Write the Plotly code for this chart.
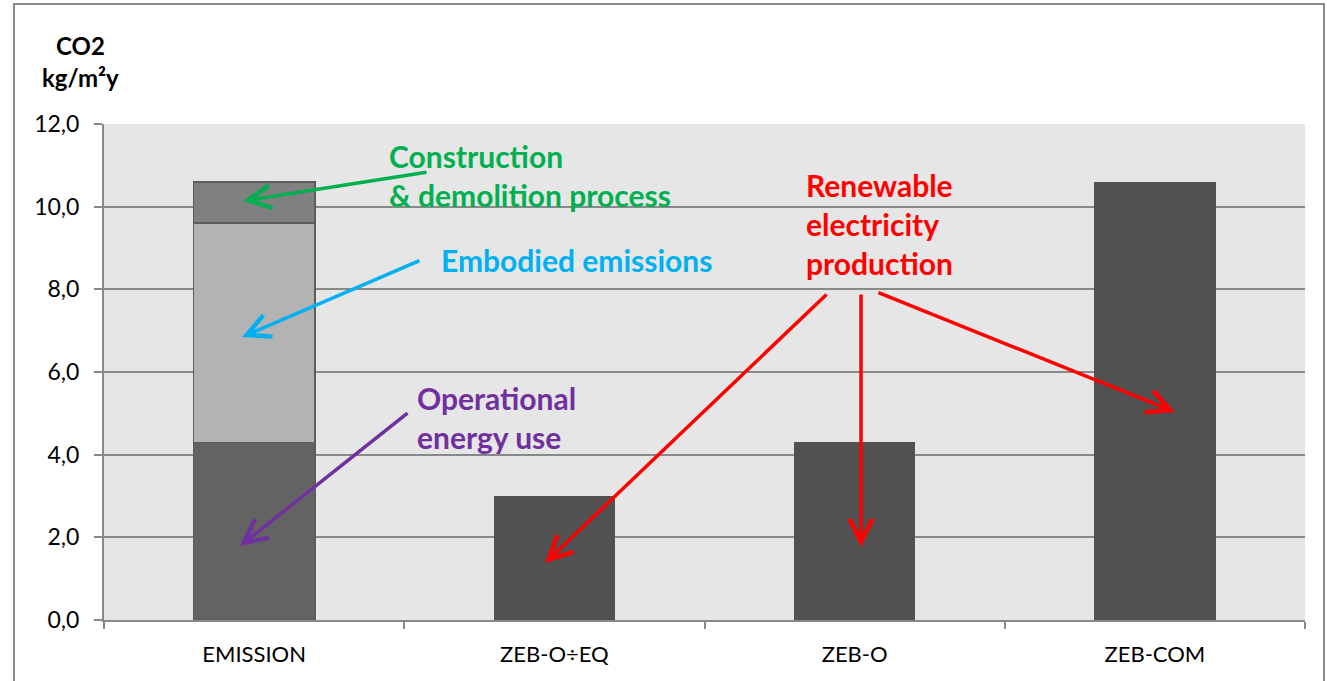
import plotly.graph_objs as go

categories = ['EMISSION', 'ZEB-O÷EQ', 'ZEB-O', 'ZEB-COM']
operational = [4.3, None, None, None]
embodied = [5.3, None, None, None]
construction = [1.0, None, None, None]
zeb_totals = [None, 3.0, 4.3, 10.6]
y_ticks = [0, 2, 4, 6, 8, 10, 12]

W, H = 1327, 681
L, R, T, B = 104, 1305, 124, 620


def paper(px, py):
    return (px - L) / (R - L), (B - py) / (B - T)


fig = go.Figure()
edge = dict(color='#5c5c5c', width=1.5)
fig.add_trace(go.Bar(x=categories, y=operational, marker=dict(color='#636363', line=edge), name='Operational'))
fig.add_trace(go.Bar(x=categories, y=embodied, marker=dict(color='#b3b3b3', line=edge), name='Embodied'))
fig.add_trace(go.Bar(x=categories, y=construction, marker=dict(color='#808080', line=edge), name='Construction'))
fig.add_trace(go.Bar(x=categories, y=zeb_totals, marker=dict(color='#515151', line=dict(width=0)), name='ZEB'))

grid = '#898989'
fig.update_layout(
    width=W, height=H,
    margin=dict(l=L, r=W - R, t=T, b=H - B),
    barmode='stack', bargap=0.595,
    showlegend=False,
    plot_bgcolor='#e6e6e6', paper_bgcolor='white',
    separators=', ',
    font=dict(family='Lato', color='black'),
)
fig.update_xaxes(
    showline=True, linecolor=grid, linewidth=2,
    ticks='outside', tickson='boundaries', ticklen=7, tickwidth=2, tickcolor=grid,
    ticklabelstandoff=14,
    tickfont=dict(size=22, family='Lato'),
)
fig.update_yaxes(
    range=[0, 12], tickvals=y_ticks, tickformat='.1f',
    showline=True, linecolor=grid, linewidth=2,
    gridcolor=grid, gridwidth=2, zeroline=False,
    ticks='outside', ticklen=8, tickwidth=2, tickcolor=grid,
    ticklabelstandoff=10,
    tickfont=dict(size=23, family='Lato'),
)

# outer frame of the picture
x0, y0 = paper(14, 700)
x1, y1 = paper(1324, 4)
fig.add_shape(type='rect', xref='paper', yref='paper', x0=x0, y0=y0, x1=x1, y1=y1,
              line=dict(color='#8c8c8c', width=2), layer='above')

# y axis caption
for text, py in [('CO2', 45), ('kg/m²y', 78)]:
    px_, py_ = paper(80, py)
    fig.add_annotation(xref='paper', yref='paper', x=px_, y=py_, text=f'<b>{text}</b>',
                       showarrow=False, xanchor='center', yanchor='middle',
                       font=dict(size=24, family='Lato', color='black'))

labels = [
    ('Construction<br>& demolition process', 389, 175.5, '#00b050'),
    ('Embodied emissions', 441, 260, '#00b0f0'),
    ('Operational<br>energy use', 417, 417, '#7030a0'),
    ('Renewable<br>electricity<br>production', 806, 224, '#ff0000'),
]
for text, px_, py_, col in labels:
    ax_, ay_ = paper(px_ - 2, py_)
    fig.add_annotation(xref='paper', yref='paper', x=ax_, y=ay_, text=f'<b>{text}</b>',
                       showarrow=False, xanchor='left', yanchor='middle', align='left',
                       font=dict(size=30, family='Lato', color=col))

arrows = [
    ((428, 172), (243, 201), '#00b050'),
    ((421, 260), (242, 337), '#00b0f0'),
    ((409, 412), (240, 546), '#7030a0'),
    ((828, 293), (545, 563), '#ff0000'),
    ((861, 293), (861, 547), '#ff0000'),
    ((877, 292), (1175, 412), '#ff0000'),
]
for (tx, ty), (hx, hy), col in arrows:
    px_, py_ = paper(hx, hy)
    fig.add_annotation(xref='paper', yref='paper', x=px_, y=py_, text='',
                       showarrow=True, axref='pixel', ayref='pixel',
                       ax=tx - hx, ay=ty - hy,
                       arrowhead=5, arrowsize=1.3, arrowwidth=3.5, arrowcolor=col)

fig.write_html('out.html', config={'displayModeBar': False},
               post_script="document.body.style.margin='0px';")
